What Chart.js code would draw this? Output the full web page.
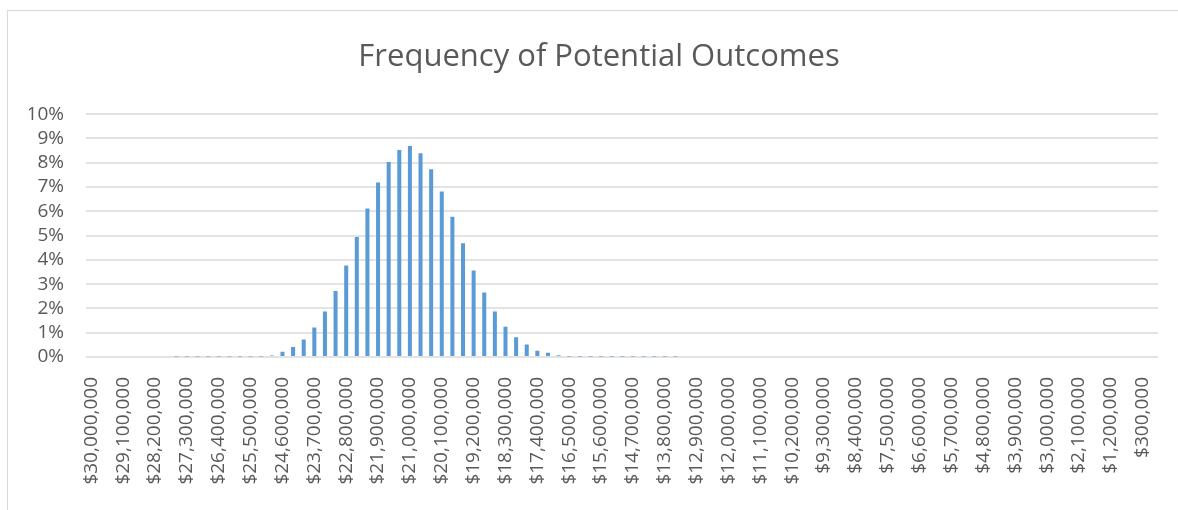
<!DOCTYPE html>
<html>
<head>
<meta charset="utf-8">
<script src="https://cdn.jsdelivr.net/npm/chart.js@4/dist/chart.umd.min.js"></script>
<style>
  html, body { margin: 0; padding: 0; background: #fff; }
  #wrap { position: relative; width: 1178px; height: 510px; }
  #frame { position: absolute; left: 7px; top: 10px; right: 0; bottom: -2px;
           border-left: 1px solid #d9d9d9; border-top: 1px solid #d9d9d9; }
  canvas { position: absolute; left: 0; top: 0; }
</style>
</head>
<body>
<div id="wrap">
  <div id="frame"></div>
  <canvas id="chart" width="1178" height="510"></canvas>
</div>
<script>
// Outcome buckets: $30,000,000 down to $300,000 in $300,000 steps
const startValue = 30000000;
const stepValue = 300000;
const bucketCount = 100;
const categories = [];
for (let i = 0; i < bucketCount; i++) {
  categories.push('$' + (startValue - i * stepValue).toLocaleString('en-US'));
}

// Frequency (%) per bucket
const frequencies = [
  0, 0, 0, 0, 0, 0, 0, 0,
  0.02, 0.02, 0.02, 0.02, 0.02, 0.02, 0.02, 0.02, 0.02,
  0.06, 0.22, 0.41, 0.72, 1.21, 1.87, 2.72, 3.77, 4.94, 6.12,
  7.19, 8.03, 8.53, 8.69, 8.39, 7.73, 6.82, 5.78, 4.68, 3.56,
  2.66, 1.87, 1.25, 0.81, 0.51, 0.26, 0.17, 0.07,
  0.02, 0.02, 0.02, 0.02, 0.02, 0.02, 0.02, 0.02, 0.02, 0.02, 0.02,
  0, 0, 0, 0, 0, 0, 0, 0, 0, 0,
  0, 0, 0, 0, 0, 0, 0, 0, 0, 0,
  0, 0, 0, 0, 0, 0, 0, 0, 0, 0,
  0, 0, 0, 0, 0, 0, 0, 0, 0, 0,
  0, 0, 0, 0
];

const yTicks = [0, 1, 2, 3, 4, 5, 6, 7, 8, 9, 10];
const labelEvery = 3;

const textColor = '#595959';
const gridColor = '#e3e3e3';
const fontFamily = '"Open Sans", "Liberation Sans", sans-serif';

// gridlines in the original run a little past the last bucket
const gridExtend = {
  id: 'gridExtend',
  beforeDatasetsDraw(chart) {
    const { ctx, chartArea, scales } = chart;
    ctx.save();
    ctx.strokeStyle = gridColor;
    ctx.lineWidth = 2;
    yTicks.forEach(v => {
      const y = Math.round(scales.y.getPixelForValue(v));
      ctx.beginPath();
      ctx.moveTo(chartArea.right, y);
      ctx.lineTo(chartArea.right + 10, y);
      ctx.stroke();
    });
    ctx.restore();
  }
};

new Chart(document.getElementById('chart'), {
  type: 'bar',
  data: {
    labels: categories,
    datasets: [{
      data: frequencies,
      backgroundColor: '#5B9BD5',
      borderWidth: 0,
      barPercentage: 0.38,
      categoryPercentage: 1.0
    }]
  },
  options: {
    responsive: false,
    animation: false,
    devicePixelRatio: 1,
    layout: { padding: { left: 29, right: 9, top: 0, bottom: 13 } },
    plugins: {
      legend: { display: false },
      tooltip: { enabled: false },
      title: {
        display: true,
        text: 'Frequency of Potential Outcomes',
        color: textColor,
        font: { family: fontFamily, size: 31, weight: 'normal' },
        padding: { top: 39, bottom: 38 }
      }
    },
    scales: {
      x: {
        grid: { display: false, drawTicks: false },
        border: { display: false },
        afterFit: (s) => { s.height = 140; s.paddingRight = 30; },
        ticks: {
          autoSkip: false,
          minRotation: 90,
          maxRotation: 90,
          padding: 20,
          color: textColor,
          font: { family: fontFamily, size: 19 },
          callback: function (value, index) {
            return index % labelEvery === 0 ? categories[index] : '';
          }
        }
      },
      y: {
        min: yTicks[0],
        max: yTicks[yTicks.length - 1],
        afterBuildTicks: (s) => { s.ticks = yTicks.map(v => ({ value: v })); },
        afterFit: (s) => { s.width = 57; },
        grid: { color: gridColor, lineWidth: 2, drawTicks: false },
        border: { display: false },
        ticks: {
          autoSkip: false,
          padding: 22,
          color: textColor,
          font: { family: fontFamily, size: 19 },
          callback: (v) => v + '%'
        }
      }
    }
  },
  plugins: [gridExtend]
});
</script>
</body>
</html>
